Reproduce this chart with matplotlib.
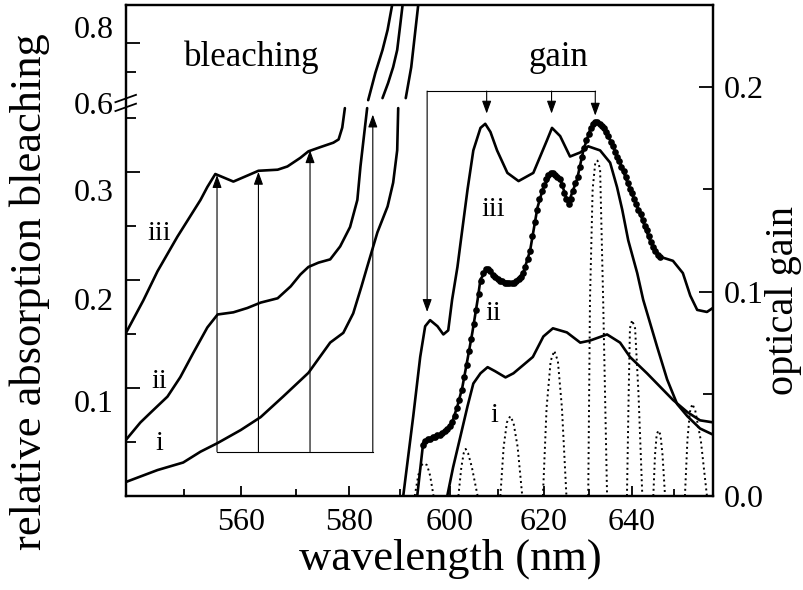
import numpy as np
import matplotlib.pyplot as plt

plt.rcParams['font.family'] = ['Liberation Serif', 'DejaVu Serif']

# ---- bleaching spectra (left axis), nan = axis break -------------------
bl_iii_wl = [540.1, 543.0, 545.4, 548.8, 552.8, 554.0, 555.4, 558.6, 561.3, 563.1,
             566.6, 568.4, 570.8, 572.3, 574.6, 577.0, 578.0, 578.7, 579.2, np.nan,
             583.7, 585.1, 586.5, 587.5, 588.4, 588.7]
bl_iii = [0.151, 0.181, 0.208, 0.240, 0.274, 0.286, 0.298, 0.291, 0.297, 0.301,
          0.302, 0.305, 0.313, 0.319, 0.323, 0.327, 0.330, 0.341, 0.359, np.nan,
          0.603, 0.697, 0.776, 0.845, 0.931, 0.95]

bl_ii_wl = [540.1, 542.5, 544.2, 547.1, 549.3, 551.5, 554.0, 555.8, 558.6, 561.1,
            563.5, 566.6, 569.0, 570.8, 572.3, 574.2, 576.4, 578.3, 580.2, 581.6,
            582.2, 582.8, 583.5, np.nan,
            586.5, 587.6, 588.6, 589.4, 590.0, 590.6]
bl_ii = [0.052, 0.068, 0.077, 0.092, 0.110, 0.132, 0.156, 0.168, 0.170, 0.174,
         0.179, 0.183, 0.194, 0.205, 0.212, 0.216, 0.219, 0.231, 0.249, 0.274,
         0.305, 0.330, 0.359, np.nan,
         0.610, 0.662, 0.717, 0.776, 0.862, 0.95]

bl_i_wl = [540.1, 545.4, 549.8, 552.8, 555.8, 559.9, 563.5, 567.6, 572.3, 576.4,
           578.9, 580.8, 582.4, 583.5, 585.5, 587.5, 588.6, 589.4, 589.6, np.nan,
           591.1, 592.2, 593.6, 593.9]
bl_i = [0.013, 0.024, 0.031, 0.041, 0.049, 0.061, 0.073, 0.092, 0.114, 0.142,
        0.151, 0.169, 0.194, 0.212, 0.244, 0.268, 0.290, 0.320, 0.359, np.nan,
        0.610, 0.717, 0.931, 0.95]

# ---- gain spectra (right axis) ----------------------------------------
g_iii_wl = [590.6, 592.6, 594.0, 595.0, 596.0, 597.5, 598.7, 599.7, 600.5, 601.6,
            602.2, 603.7, 604.9, 606.4, 607.4, 608.5, 609.9, 612.1, 614.5, 617.7,
            620.7, 621.8, 623.6, 625.8, 628.1, 629.9, 632.6, 634.9, 636.5, 637.7,
            639.1, 641.2, 642.6, 645.9, 648.3, 650.7, 653.2, 656.3, 659.5]
g_iii = [0.0, 0.039, 0.068, 0.083, 0.086, 0.083, 0.079, 0.081, 0.096, 0.112,
         0.123, 0.150, 0.169, 0.180, 0.182, 0.178, 0.169, 0.158, 0.154, 0.158,
         0.174, 0.180, 0.176, 0.166, 0.168, 0.171, 0.169, 0.163, 0.151, 0.140,
         0.125, 0.109, 0.096, 0.073, 0.057, 0.045, 0.039, 0.033, 0.030]

g_ii_wl = [593.4, 594.6, 596.0, 598.7, 600.5, 601.6, 602.6, 603.7, 604.7, 605.8,
           606.4, 607.9, 609.1, 611.3, 613.4, 615.5, 617.0, 618.6, 619.9, 621.8,
           623.6, 625.4, 627.4, 628.8, 630.3, 631.7, 633.3, 634.9, 637.2, 639.5,
           641.9, 644.2, 646.6, 649.7, 652.1, 653.9, 655.6, 658.0, 659.5]
g_ii = [0.0, 0.026, 0.028, 0.031, 0.036, 0.044, 0.053, 0.067, 0.080, 0.096,
        0.106, 0.111, 0.108, 0.105, 0.104, 0.109, 0.120, 0.141, 0.151, 0.158,
        0.155, 0.143, 0.155, 0.169, 0.179, 0.183, 0.180, 0.174, 0.163, 0.150,
        0.138, 0.125, 0.117, 0.115, 0.109, 0.098, 0.091, 0.090, 0.092]

# measured points of spectrum ii
ii_dot_wl = [594.5, 595.0, 595.5, 596.0, 596.5, 597.0, 597.5, 598.0, 598.5, 599.0,
             599.5, 600.0, 600.5, 601.0, 601.5, 602.0, 602.5, 603.0, 603.5, 604.0,
             604.5, 605.0, 605.5, 606.0, 606.5, 607.0, 607.5, 608.0, 608.5, 609.0,
             609.5, 610.0, 610.5, 611.0, 611.5, 612.0, 612.5, 613.0, 613.5, 614.0,
             614.5, 615.0, 615.5, 616.0, 616.5, 617.0, 617.5, 618.0, 618.5, 619.0,
             619.5, 620.0, 620.5, 621.0, 621.5, 622.0, 622.5, 623.0, 623.5, 624.0,
             624.5, 625.0, 625.5, 626.0, 626.5, 627.0, 627.5, 628.0, 628.5, 629.0,
             629.5, 630.0, 630.5, 631.0, 631.5, 632.0, 632.5, 633.0, 633.5, 634.0,
             634.5, 635.0, 635.5, 636.0, 636.5, 637.0, 637.5, 638.0, 638.5, 639.0,
             639.5, 640.0, 640.5, 641.0, 641.5, 642.0, 642.5, 643.0, 643.5, 644.0,
             644.5, 645.0, 645.5, 646.0, 646.5]
ii_dot_g = [0.025, 0.027, 0.028, 0.028, 0.029, 0.029, 0.030, 0.030, 0.031, 0.032,
            0.033, 0.034, 0.036, 0.039, 0.043, 0.047, 0.052, 0.058, 0.064, 0.071,
            0.077, 0.084, 0.091, 0.099, 0.105, 0.109, 0.111, 0.111, 0.110, 0.108,
            0.107, 0.106, 0.105, 0.105, 0.104, 0.104, 0.104, 0.104, 0.104, 0.105,
            0.106, 0.107, 0.109, 0.112, 0.116, 0.120, 0.127, 0.134, 0.140, 0.145,
            0.149, 0.152, 0.155, 0.157, 0.158, 0.158, 0.157, 0.156, 0.155, 0.152,
            0.148, 0.145, 0.143, 0.145, 0.149, 0.153, 0.156, 0.161, 0.166, 0.170,
            0.174, 0.177, 0.180, 0.182, 0.183, 0.183, 0.182, 0.181, 0.180, 0.178,
            0.176, 0.173, 0.171, 0.168, 0.166, 0.164, 0.161, 0.159, 0.156, 0.153,
            0.150, 0.148, 0.145, 0.143, 0.140, 0.138, 0.135, 0.132, 0.130, 0.127,
            0.124, 0.122, 0.120, 0.118, 0.117]

g_i_wl = [599.5, 600.7, 602.2, 603.7, 604.9, 606.4, 607.9, 609.5, 611.7, 613.4,
          615.5, 617.6, 619.9, 622.0, 625.1, 628.1, 630.3, 634.2, 637.2, 639.5,
          643.5, 647.3, 649.7, 653.2, 656.3, 659.5]
g_i = [0.0, 0.014, 0.029, 0.044, 0.055, 0.060, 0.063, 0.061, 0.058, 0.060,
       0.064, 0.068, 0.078, 0.082, 0.080, 0.075, 0.076, 0.079, 0.075, 0.068,
       0.060, 0.052, 0.047, 0.041, 0.037, 0.036]

# lasing modes (dotted)
mode_wl = [[592.9, 593.6, 594.2, 594.8, 595.4, 596.0, 596.7],
           [601.8, 602.4, 602.9, 603.3, 603.8, 604.6, 605.8],
           [610.6, 611.3, 612.0, 612.7, 613.4, 614.3, 615.3],
           [619.8, 620.6, 621.5, 622.3, 623.1, 624.0, 625.0],
           [629.9, 630.3, 630.9, 631.5, 632.0, 632.6, 633.3, 634.2],
           [638.8, 639.2, 639.5, 640.0, 640.7, 641.5, 642.4],
           [645.0, 645.4, 645.8, 646.2, 646.7, 647.2, 647.8],
           [652.6, 653.2, 653.8, 654.4, 655.1, 656.5, 658.0]]
mode_g = [[0, 0.010, 0.015, 0.016, 0.015, 0.010, 0],
          [0, 0.014, 0.021, 0.023, 0.021, 0.014, 0],
          [0, 0.024, 0.036, 0.039, 0.036, 0.024, 0],
          [0, 0.043, 0.066, 0.071, 0.066, 0.043, 0],
          [0, 0.096, 0.150, 0.163, 0.164, 0.160, 0.096, 0],
          [0, 0.050, 0.082, 0.086, 0.082, 0.050, 0],
          [0, 0.020, 0.030, 0.032, 0.030, 0.020, 0],
          [0, 0.027, 0.041, 0.045, 0.042, 0.027, 0]]

# arrows
bl_arrow_wl = [555.7, 563.1, 572.6, 584.6]
bl_arrow_tip = [0.297, 0.300, 0.320, 0.353]
bl_arrow_base = 0.041
g_arrow_wl = [595.4, 607.7, 621.7, 631.5]
g_arrow_tip = [0.090, 0.187, 0.187, 0.186]
g_arrow_top = 0.198

x_ticks = [560, 580, 600, 620, 640]
x_minor = [550, 570, 590, 610, 630, 650]
left_labels = ['0.8', '0.6', '0.3', '0.2', '0.1']
right_ticks = [0.0, 0.1, 0.2]

# ---- scales ------------------------------------------------------------
LO, HI = 0.36, 0.6
GAP, K = 6 / 1080, 290 / 1080


def y_fwd(v):
    v = np.asarray(v, dtype=float)
    return np.where(v <= LO, v,
                    np.where(v >= HI, LO + GAP + (v - HI) * K,
                             LO + (v - LO) / (HI - LO) * GAP))


def y_inv(u):
    u = np.asarray(u, dtype=float)
    return np.where(u <= LO, u,
                    np.where(u >= LO + GAP, HI + (u - LO - GAP) / K,
                             LO + (u - LO) / GAP * (HI - LO)))


def x_fwd(w):
    # linear in photon energy
    w = np.asarray(w, dtype=float)
    with np.errstate(divide='ignore', invalid='ignore'):
        return -1000.0 / w


W, H = 804, 590


def px(x, y):
    return x / W, 1 - y / H


fig = plt.figure(figsize=(W / 100, H / 100), dpi=100)
ax = fig.add_axes([126 / W, 94 / H, 587 / W, 491 / H])
ax.set_xscale('function', functions=(x_fwd, x_fwd))
ax.set_yscale('function', functions=(y_fwd, y_inv))
ax.set_xlim(540.1, 659.5)
ax.set_ylim(0, 0.931)

lw = 1.9
line_kw = dict(color='k', lw=lw, solid_joinstyle='round', solid_capstyle='round')
for wl, v in [(bl_iii_wl, bl_iii), (bl_ii_wl, bl_ii), (bl_i_wl, bl_i)]:
    ax.plot(wl, v, **line_kw)

# bleaching arrows
ax.plot([bl_arrow_wl[0], bl_arrow_wl[-1]], [bl_arrow_base] * 2, color='k', lw=0.8)
for wl, tip in zip(bl_arrow_wl, bl_arrow_tip):
    ax.annotate('', xy=(wl, tip), xytext=(wl, bl_arrow_base),
                arrowprops=dict(arrowstyle='-|>,head_length=0.55,head_width=0.2',
                                mutation_scale=14, lw=0.8, color='k',
                                shrinkA=0, shrinkB=0))

ax.set_xticks(x_ticks)
ax.set_xticklabels([str(t) for t in x_ticks])
ax.set_xticks(x_minor, minor=True)
ax.set_xticklabels([''] * len(x_minor), minor=True)
ax.set_yticks([0.1, 0.2, 0.3, 0.8])
ax.set_yticklabels([''] * 4)
ax.set_yticks([0.05, 0.15, 0.25, 0.35, 0.7], minor=True)
ax.set_yticklabels([''] * 5, minor=True)
ax.tick_params(which='both', direction='in', width=1.3, labelsize=23, top=False)
ax.tick_params(axis='x', which='major', length=7, pad=9)
ax.tick_params(axis='x', which='minor', length=5)
ax.tick_params(axis='y', which='major', length=10)
ax.tick_params(axis='y', which='minor', length=7)
for s in ax.spines.values():
    s.set_linewidth(1.6)

# axis break marks
for y0 in (0.784, 0.802):
    ax.plot([-0.018, 0.017], [y0, y0 + 0.015], transform=ax.transAxes,
            color='k', lw=1.3, clip_on=False)

# left labels, placed as in the figure
for lab, y in zip(left_labels, [30, 106, 193, 303, 404]):
    fig.text(*px(114, y), lab, ha='right', va='center', fontsize=23)

# ---- gain axis ---------------------------------------------------------
ax2 = ax.twinx()
ax2.set_ylim(0, 0.2401)
ax2.plot(g_iii_wl, g_iii, **line_kw)
ax2.plot(g_ii_wl, g_ii, **line_kw)
ax2.plot(ii_dot_wl, ii_dot_g, 'o', color='k', ms=4.8, mew=0)
ax2.plot(g_i_wl, g_i, **line_kw)
for wl, g in zip(mode_wl, mode_g):
    ax2.plot(wl, g, color='k', lw=1.4, ls=(0, (1, 1.7)))

ax2.plot([g_arrow_wl[0], g_arrow_wl[-1]], [g_arrow_top] * 2, color='k', lw=0.8)
for wl, tip in zip(g_arrow_wl, g_arrow_tip):
    ax2.annotate('', xy=(wl, tip), xytext=(wl, g_arrow_top),
                 arrowprops=dict(arrowstyle='-|>,head_length=0.55,head_width=0.2',
                                 mutation_scale=14, lw=0.8, color='k',
                                 shrinkA=0, shrinkB=0))

ax2.set_yticks(right_ticks)
ax2.set_yticklabels(['%.1f' % t for t in right_ticks])
ax2.set_yticks([0.05, 0.15], minor=True)
ax2.tick_params(which='both', direction='in', width=1.3, labelsize=23, pad=8)
ax2.tick_params(which='major', length=10)
ax2.tick_params(which='minor', length=7)
for s in ax2.spines.values():
    s.set_linewidth(1.6)

# ---- text --------------------------------------------------------------
fig.text(*px(252, 57), 'bleaching', ha='center', va='center', fontsize=25)
fig.text(*px(558, 57), 'gain', ha='center', va='center', fontsize=25)
for lab, x, y in [('iii', 159, 234), ('ii', 159, 382), ('i', 159, 443),
                  ('iii', 493, 210), ('ii', 493, 313), ('i', 494, 415)]:
    fig.text(*px(x, y), lab, ha='center', va='center', fontsize=20)

fig.text(*px(450, 559), 'wavelength (nm)', ha='center', va='center', fontsize=32)
fig.text(*px(30, 292), 'relative absorption bleaching', ha='center', va='center',
         rotation=90, fontsize=32)
fig.text(*px(784, 301), 'optical gain', ha='center', va='center',
         rotation=90, fontsize=29)

fig.savefig('out.png', dpi=100)
